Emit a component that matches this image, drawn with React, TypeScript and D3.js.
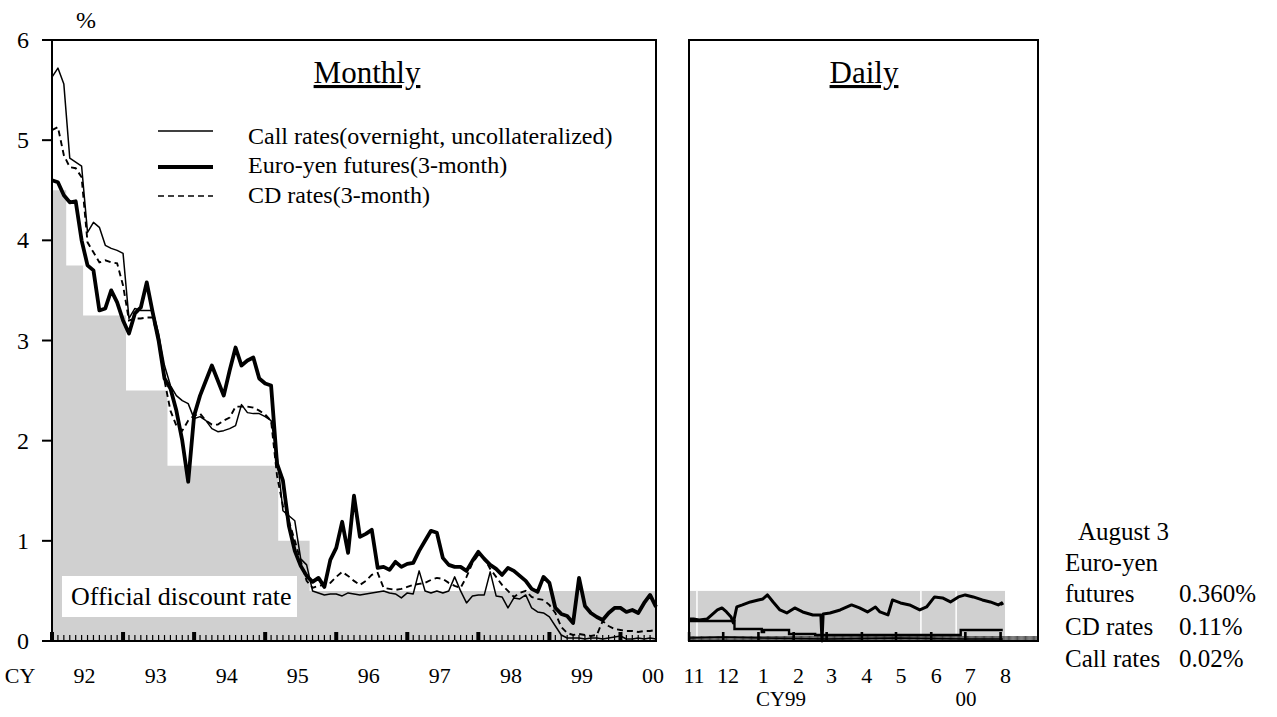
import React from "react";
import * as d3 from "d3";

// ---------- data ----------
const yTicks = [0, 1, 2, 3, 4, 5, 6];
const yearLabels = ["92", "93", "94", "95", "96", "97", "98", "99", "00"];

// monthly series, Jan 1992 .. Jul 2000 (103 months), %
const callMonthly = [
  5.63, 5.72, 5.56, 4.82, 4.78, 4.74, 4.08, 4.18, 4.13, 3.95,
  3.92, 3.9, 3.87, 3.22, 3.32, 3.3, 3.3, 3.3, 3.07, 2.75,
  2.55, 2.45, 2.4, 2.37, 2.22, 2.24, 2.2, 2.12, 2.09, 2.1,
  2.12, 2.15, 2.36, 2.28, 2.27, 2.27, 2.24, 2.2, 1.85, 1.3,
  1.25, 1.2, 0.82, 0.76, 0.5, 0.48, 0.46, 0.47, 0.47, 0.45,
  0.48, 0.47, 0.46, 0.47, 0.48, 0.49, 0.5, 0.48, 0.47, 0.43,
  0.48, 0.47, 0.7, 0.5, 0.48, 0.5, 0.48, 0.5, 0.64, 0.5,
  0.38, 0.45, 0.46, 0.46, 0.69, 0.45, 0.44, 0.33, 0.43, 0.42,
  0.46, 0.33, 0.29, 0.28, 0.24, 0.15, 0.06, 0.03, 0.03, 0.03,
  0.02, 0.03, 0.03, 0.02, 0.03, 0.04, 0.05, 0.02, 0.02, 0.03,
  0.02, 0.03, 0.02,
];
const euroYenMonthly = [
  4.6, 4.58, 4.45, 4.38, 4.39, 4.0, 3.75, 3.7, 3.3, 3.32,
  3.5, 3.38, 3.2, 3.07, 3.27, 3.33, 3.58, 3.28, 3.0, 2.62,
  2.52, 2.3, 2.0, 1.59, 2.25, 2.45, 2.6, 2.75, 2.6, 2.45,
  2.7, 2.93, 2.75, 2.8, 2.83, 2.62, 2.57, 2.55, 1.77, 1.6,
  1.15, 0.9, 0.75, 0.65, 0.59, 0.63, 0.54, 0.81, 0.93, 1.19,
  0.88, 1.45, 1.04, 1.07, 1.11, 0.73, 0.74, 0.71, 0.79, 0.74,
  0.77, 0.78, 0.9, 1.0, 1.1, 1.08, 0.83, 0.76, 0.74, 0.74,
  0.7, 0.8, 0.89, 0.82, 0.76, 0.72, 0.66, 0.73, 0.7, 0.65,
  0.6, 0.52, 0.49, 0.64, 0.58, 0.33, 0.27, 0.25, 0.18, 0.63,
  0.35, 0.28, 0.24, 0.21, 0.28, 0.33, 0.33, 0.29, 0.31, 0.28,
  0.38, 0.46, 0.34,
];
const cdMonthly = [
  5.1, 5.13, 4.85, 4.73, 4.72, 4.63, 3.98, 3.88, 3.78, 3.8,
  3.78, 3.77, 3.55, 3.2, 3.22, 3.22, 3.23, 3.23, 3.0, 2.6,
  2.3, 2.15, 2.1, 2.2, 2.25, 2.27, 2.2, 2.16, 2.16, 2.2,
  2.23, 2.34, 2.34, 2.34, 2.33, 2.3, 2.26, 2.2, 1.65, 1.35,
  1.2, 1.0, 0.8, 0.6, 0.53, 0.55, 0.56, 0.58, 0.64, 0.69,
  0.65, 0.6, 0.56, 0.6, 0.66, 0.68, 0.53, 0.52, 0.51, 0.52,
  0.54, 0.56, 0.57, 0.58, 0.61, 0.63, 0.62, 0.58, 0.55, 0.53,
  0.64, 0.78, 0.86, 0.83, 0.72, 0.64, 0.56, 0.5, 0.44, 0.48,
  0.5, 0.44, 0.42, 0.41, 0.36, 0.28, 0.14, 0.08, 0.06, 0.07,
  0.06, 0.05, 0.06, 0.2, 0.15, 0.12, 0.11, 0.1, 0.1, 0.09,
  0.1, 0.1, 0.11,
];
// official discount rate steps (month index from Jan 1992, as drawn)
const odrSteps = [
  { m: 0, rate: 4.5 },
  { m: 2.4, rate: 3.75 },
  { m: 5.25, rate: 3.25 },
  { m: 12.5, rate: 2.5 },
  { m: 19.5, rate: 1.75 },
  { m: 38.2, rate: 1.0 },
  { m: 43.5, rate: 0.5 },
  { m: 102, rate: 0.5 },
];

// daily series, Nov 1999 .. Aug 3 2000
const dailyMonthStarts = [
  "1999-11-01", "1999-12-01", "2000-01-01", "2000-02-01", "2000-03-01",
  "2000-04-01", "2000-05-01", "2000-06-01", "2000-07-01", "2000-08-01",
];
const dailyMonthLabels = ["11", "12", "1", "2", "3", "4", "5", "6", "7", "8"];
const euroYenDaily: [string, number][] = [
  ["1999-11-01", 0.22], ["1999-11-05", 0.22], ["1999-11-10", 0.21], ["1999-11-17", 0.22],
  ["1999-11-22", 0.27], ["1999-11-26", 0.31], ["1999-11-30", 0.33], ["1999-12-04", 0.29],
  ["1999-12-08", 0.24], ["1999-12-10", 0.18], ["1999-12-13", 0.34], ["1999-12-18", 0.36],
  ["1999-12-25", 0.39], ["2000-01-01", 0.41], ["2000-01-05", 0.42], ["2000-01-09", 0.46],
  ["2000-01-14", 0.39], ["2000-01-20", 0.31], ["2000-01-26", 0.28], ["2000-02-02", 0.33],
  ["2000-02-09", 0.29], ["2000-02-18", 0.26], ["2000-02-25", 0.26], ["2000-02-26", 0.0],
  ["2000-02-27", 0.27], ["2000-03-04", 0.28], ["2000-03-13", 0.31], ["2000-03-23", 0.36],
  ["2000-03-30", 0.33], ["2000-04-06", 0.29], ["2000-04-13", 0.34], ["2000-04-17", 0.29],
  ["2000-04-24", 0.26], ["2000-04-28", 0.41], ["2000-05-05", 0.38], ["2000-05-13", 0.36],
  ["2000-05-22", 0.31], ["2000-05-28", 0.34], ["2000-06-04", 0.44], ["2000-06-11", 0.43],
  ["2000-06-18", 0.39], ["2000-06-25", 0.44], ["2000-07-01", 0.46], ["2000-07-08", 0.44],
  ["2000-07-16", 0.41], ["2000-07-23", 0.39], ["2000-07-30", 0.36], ["2000-08-02", 0.38],
  ["2000-08-03", 0.36],
];
const cdDaily: [string, number][] = [
  ["1999-11-01", 0.2], ["1999-12-11", 0.12], ["2000-01-04", 0.09], ["2000-01-06", 0.11],
  ["2000-01-28", 0.07], ["2000-02-20", 0.06], ["2000-06-27", 0.11], ["2000-08-03", 0.11],
];
const callDaily: [string, number][] = [
  ["1999-11-01", 0.03], ["1999-12-01", 0.04], ["2000-01-05", 0.03], ["2000-03-01", 0.02],
  ["2000-05-01", 0.03], ["2000-07-01", 0.02], ["2000-08-03", 0.02],
];
const odrDaily = { start: "1999-11-01", end: "2000-08-05", rate: 0.5 };
const odrDailyGaps = ["1999-11-08", "2000-05-23", "2000-06-23"];

const latestDate = "August 3";
const latestLabels = ["futures", "CD rates", "Call rates"];
const latestValues = ["0.360%", "0.11%", "0.02%"];

// ---------- layout ----------
const W = 1277;
const H = 717;
const FONT = "'Liberation Serif', 'Times New Roman', serif";
const GRAY = "#d0d0d0";

const y = d3.scaleLinear().domain([0, 6]).range([641, 40]);
const xM = d3.scaleLinear().domain([0, 102]).range([52, 656]);
const parse = d3.timeParse("%Y-%m-%d") as (s: string) => Date;
const xD = d3.scaleTime().domain([parse("1999-11-01"), parse("2000-09-03")]).range([689, 1038]);

export default function App() {
  const monthlyLine = d3
    .line<number>()
    .x((_, i) => xM(i))
    .y((d) => y(d));
  const odrArea = d3
    .area<{ m: number; rate: number }>()
    .x((d) => xM(d.m))
    .y0(y(0))
    .y1((d) => y(d.rate))
    .curve(d3.curveStepAfter);
  const dailyLine = d3
    .line<[string, number]>()
    .x((d) => xD(parse(d[0])))
    .y((d) => y(d[1]));
  const dailyStep = d3
    .line<[string, number]>()
    .x((d) => xD(parse(d[0])))
    .y((d) => y(d[1]))
    .curve(d3.curveStepAfter);

  const monthTicks = d3.range(0, 103);
  const yearTicks = d3.range(0, 103, 12);
  const days = d3.timeDay.range(parse("1999-11-01"), parse("2000-09-03"));

  const baseY = y(0);

  return (
    <svg
      width={W}
      height={H}
      style={{ position: "absolute", left: 0, top: 0, background: "#fff" }}
      fontFamily={FONT}
    >
      <rect x={0} y={0} width={W} height={H} fill="#fff" />

      {/* ---------------- Monthly panel ---------------- */}
      <path d={odrArea(odrSteps) || ""} fill={GRAY} />
      <rect x={62} y={576} width={235} height={41} fill="#fff" />
      <text x={71} y={605} fontSize={26}>Official discount rate</text>

      {monthTicks.map((m) => (
        <line key={"mt" + m} x1={xM(m)} x2={xM(m)} y1={baseY} y2={baseY - 6} stroke="#000" strokeWidth={1.2} />
      ))}
      {yearTicks.map((m) => (
        <rect key={"yt" + m} x={xM(m) - 2} y={baseY - 9} width={4} height={9} fill="#000" />
      ))}

      <path d={monthlyLine(cdMonthly) || ""} fill="none" stroke="#000" strokeWidth={1.9} strokeDasharray="6,4" />
      <path d={monthlyLine(callMonthly) || ""} fill="none" stroke="#000" strokeWidth={1.5} strokeLinejoin="round" />
      <path d={monthlyLine(euroYenMonthly) || ""} fill="none" stroke="#000" strokeWidth={3.8} strokeLinejoin="round" />

      <rect x={xM(0)} y={y(6)} width={xM(102) - xM(0)} height={y(0) - y(6)} fill="none" stroke="#000" strokeWidth={2} />

      {yTicks.map((v) => (
        <g key={"y" + v}>
          <line x1={42} x2={52} y1={y(v)} y2={y(v)} stroke="#000" strokeWidth={2} />
          <text x={23} y={y(v) + 8} fontSize={24} textAnchor="middle">{v}</text>
        </g>
      ))}
      <text x={86} y={28} fontSize={24} textAnchor="middle">%</text>

      <text x={367} y={83} fontSize={31} textAnchor="middle" textDecoration="underline">Monthly</text>

      {/* legend */}
      <line x1={158} x2={213} y1={131} y2={131} stroke="#000" strokeWidth={1.6} />
      <line x1={158} x2={213} y1={167} y2={167} stroke="#000" strokeWidth={4} />
      <line x1={158} x2={213} y1={196} y2={196} stroke="#000" strokeWidth={1.6} strokeDasharray="6,4" />
      <text x={248} y={144} fontSize={24}>Call rates(overnight, uncollateralized)</text>
      <text x={248} y={173} fontSize={24}>Euro-yen futures(3-month)</text>
      <text x={248} y={203} fontSize={24}>CD rates(3-month)</text>

      {/* monthly x labels */}
      <text x={20} y={683} fontSize={22} textAnchor="middle">CY</text>
      {yearLabels.map((l, k) => (
        <text key={"yl" + l} x={xM(5.5 + 12 * k)} y={683} fontSize={22} textAnchor="middle">{l}</text>
      ))}

      {/* ---------------- Daily panel ---------------- */}
      <rect
        x={xD(parse(odrDaily.start))}
        y={y(odrDaily.rate)}
        width={xD(parse(odrDaily.end)) - xD(parse(odrDaily.start))}
        height={y(0) - y(odrDaily.rate)}
        fill={GRAY}
      />
      {odrDailyGaps.map((g) => (
        <line key={g} x1={xD(parse(g))} x2={xD(parse(g))} y1={y(odrDaily.rate)} y2={y(0)} stroke="#fff" strokeWidth={1.5} />
      ))}
      {days.map((d, i) => (
        <line key={"d" + i} x1={xD(d)} x2={xD(d)} y1={baseY} y2={baseY - 5} stroke="#222" strokeWidth={0.8} />
      ))}
      {dailyMonthStarts.map((s) => (
        <rect key={"ms" + s} x={xD(parse(s)) - 1.2} y={baseY - 9} width={2.6} height={9} fill="#000" />
      ))}

      <path d={dailyLine(callDaily) || ""} fill="none" stroke="#000" strokeWidth={1.3} />
      <path d={dailyStep(cdDaily) || ""} fill="none" stroke="#000" strokeWidth={2.4} />
      <path d={dailyLine(euroYenDaily) || ""} fill="none" stroke="#000" strokeWidth={3} strokeLinejoin="round" />

      <rect x={689} y={y(6)} width={1038 - 689} height={y(0) - y(6)} fill="none" stroke="#000" strokeWidth={2} />
      <text x={864} y={83} fontSize={31} textAnchor="middle" textDecoration="underline">Daily</text>

      {dailyMonthStarts.map((s, k) => (
        <text key={"dl" + s} x={xD(parse(s)) + 5} y={683} fontSize={22} textAnchor="middle">{dailyMonthLabels[k]}</text>
      ))}
      <text x={781} y={706} fontSize={21} textAnchor="middle">CY99</text>
      <text x={966} y={706} fontSize={21} textAnchor="middle">00</text>

      {/* ---------------- latest values ---------------- */}
      <text x={1078} y={540} fontSize={25}>{latestDate}</text>
      <text x={1065} y={571} fontSize={25}>Euro-yen</text>
      {latestLabels.map((l, k) => (
        <g key={l}>
          <text x={1065} y={602 + k * 32.5} fontSize={25}>{l}</text>
          <text x={1179} y={602 + k * 32.5} fontSize={25}>{latestValues[k]}</text>
        </g>
      ))}
    </svg>
  );
}
